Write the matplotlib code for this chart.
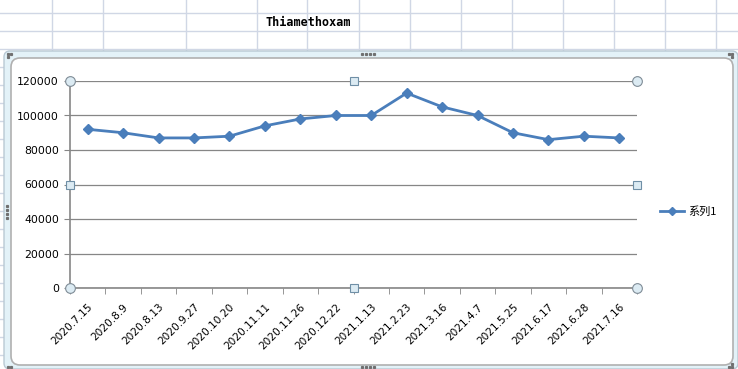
import matplotlib.pyplot as plt
from matplotlib.patches import FancyBboxPatch

# Data
dates = ['2020.7.15', '2020.8.9', '2020.8.13', '2020.9.27', '2020.10.20',
         '2020.11.11', '2020.11.26', '2020.12.22', '2021.1.13', '2021.2.23',
         '2021.3.16', '2021.4.7', '2021.5.25', '2021.6.17', '2021.6.28',
         '2021.7.16']
values = [92000, 90000, 87000, 87000, 88000, 94000, 98000, 100000, 100000,
          113000, 105000, 100000, 90000, 86000, 88000, 87000]
series_name = '系列1'
title = 'Thiamethoxam'
y_ticks = [0, 20000, 40000, 60000, 80000, 100000, 120000]

W, H = 738, 369
fig = plt.figure(figsize=(W / 100, H / 100), dpi=100)

# 1. Spreadsheet background (pixel coordinates)
bg = fig.add_axes([0, 0, 1, 1])
bg.set_xlim(0, W)
bg.set_ylim(H, 0)
bg.axis('off')

grid_col = '#d0d7e5'
for x in [52, 103, 186, 257, 307, 359, 410, 461, 512, 563, 614, 665, 716]:
    bg.plot([x, x], [0, H], color=grid_col, lw=1, zorder=1)
for y in range(13, H, 18):
    bg.plot([0, W], [y, y], color=grid_col, lw=1, zorder=1)

bg.text(308, 22, title, ha='center', va='center', fontsize=8.5,
        fontweight='bold', family='DejaVu Sans Mono', color='black')

# selection frame and chart area
bg.add_patch(FancyBboxPatch((4, 51), W - 4, H - 51,
                            boxstyle='round,pad=0,rounding_size=6',
                            fc='#e3f2f8', ec='#b9c9d3', lw=1, zorder=3))
bg.add_patch(FancyBboxPatch((11, 58), 722, 307,
                            boxstyle='round,pad=0,rounding_size=9',
                            fc='white', ec='#b0b0b0', lw=1.2, zorder=4))
# little grip dots on the frame
grip = []
for gx in [362, 366, 370, 374]:
    grip += [(gx, 53.5), (gx, 367)]
for gy in [206, 210, 214, 218]:
    grip.append((7, gy))
grip += [(8, 54), (11, 54), (8, 57), (729, 54), (732, 54), (732, 57),
         (729, 367), (732, 367), (732, 364), (8, 367), (11, 367)]
for gx, gy in grip:
    bg.plot(gx, gy, 's', ms=1.3, color='#707070', zorder=5)

# 2. Line chart
ax = fig.add_axes([70 / W, 1 - 288 / H, 567 / W, 207 / H])
ax.set_facecolor('none')
x = list(range(len(dates)))
line, = ax.plot(x, values, color='#4a7ebb', lw=2.0, marker='D', ms=5.5,
                label=series_name, zorder=3)

ax.set_xlim(-0.5, len(dates) - 0.5)
ax.set_ylim(0, 120000)
ax.set_yticks(y_ticks)
ax.set_yticklabels([str(v) for v in y_ticks], fontsize=7.8)
ax.grid(axis='y', color='#868686', lw=0.9)
ax.set_axisbelow(True)

ax.set_xticks(x)
ax.set_xticklabels(dates, rotation=45, ha='right', rotation_mode='anchor',
                   fontsize=7.6)
ax.set_xticks([i - 0.5 for i in range(len(dates) + 1)], minor=True)
ax.tick_params(axis='x', which='major', length=0, pad=10)
ax.tick_params(axis='x', which='minor', length=4, color='#868686',
               direction='out')
ax.tick_params(axis='y', length=4, color='#868686', pad=4)

for side in ['top', 'right']:
    ax.spines[side].set_visible(False)
for side in ['left', 'bottom']:
    ax.spines[side].set_color('#868686')
    ax.spines[side].set_linewidth(1.2)

# plot area selection handles
for hx, hy in [(0, 0), (1, 0), (0, 1), (1, 1)]:
    ax.plot(hx, hy, 'o', ms=7, mfc='#dcebf3', mec='#7f8c96', mew=0.8,
            transform=ax.transAxes, clip_on=False, zorder=5)
for hx, hy in [(0.5, 0), (0.5, 1), (0, 0.5), (1, 0.5)]:
    ax.plot(hx, hy, 's', ms=5.5, mfc='#dcebf3', mec='#6f8fa6', mew=0.8,
            transform=ax.transAxes, clip_on=False, zorder=5)

# 3. Legend
fig.legend(handles=[line], loc='center left',
           bbox_to_anchor=(650 / W, 1 - 212 / H), frameon=False,
           prop={'family': ['Noto Sans CJK SC', 'DejaVu Sans'], 'size': 8},
           handlelength=2.2, handletextpad=0.3, markerscale=0.8)

fig.savefig('out.png', dpi=100)
